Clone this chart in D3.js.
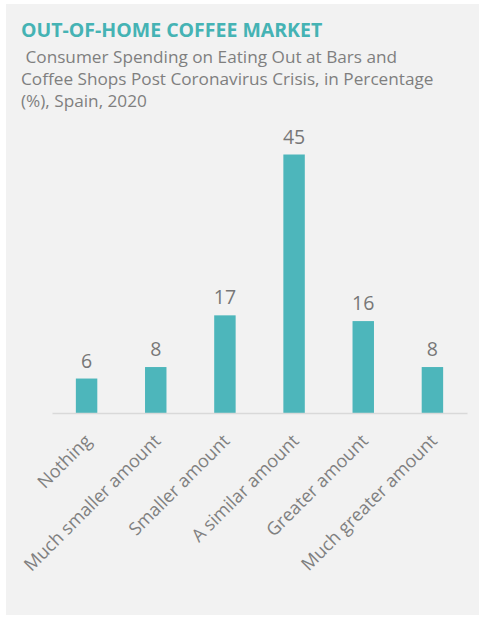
<!DOCTYPE html>
<html>
<head>
<meta charset="utf-8">
<script src="https://cdn.jsdelivr.net/npm/d3@7"></script>
<style>
  body { margin: 0; background: #fff; }
  svg text { font-family: "Open Sans", "Noto Sans", sans-serif; }
</style>
</head>
<body>
<div id="container"></div>
<script>
const width = 479;
const height = 617;

// chart data
const categories = ["Nothing", "Much smaller amount", "Smaller amount", "A similar amount", "Greater amount", "Much greater amount"];
const values = [6, 8, 17, 45, 16, 8];
const title = "OUT-OF-HOME COFFEE MARKET";
const subtitle = [" Consumer Spending on Eating Out at Bars and", "Coffee Shops Post Coronavirus Crisis, in Percentage", "(%), Spain, 2020"];

const svg = d3.select("#container")
	.append("svg")
	.attr("width", width)
	.attr("height", height);

// gray panel
svg.append("rect")
	.attr("x", 6)
	.attr("y", 4)
	.attr("width", width - 6)
	.attr("height", 611)
	.attr("fill", "#f2f2f2");

svg.append("text")
	.attr("x", 21)
	.attr("y", 37)
	.attr("font-size", 19.5)
	.attr("font-weight", "bold")
	.attr("fill", "#45b3b4")
	.text(title);

svg.selectAll(".sub")
	.data(subtitle)
	.enter()
	.append("text")
	.attr("class", "sub")
	.attr("x", 21)
	.attr("y", (d, i) => 63 + i * 22)
	.attr("font-size", 17.2)
	.attr("fill", "#7f7f7f")
	.style("white-space", "pre")
	.text(d => d);

const x = d3.scaleBand()
	.domain(categories)
	.range([52, 467])
	.paddingInner(0.69)
	.paddingOuter(0.345);

const y = d3.scaleLinear()
	.domain([0, 45])
	.range([413, 154.5]);

// bars
svg.selectAll(".bar")
	.data(values)
	.enter()
	.append("rect")
	.attr("class", "bar")
	.attr("x", (d, i) => x(categories[i]))
	.attr("y", d => y(d))
	.attr("width", x.bandwidth())
	.attr("height", d => y(0) - y(d))
	.attr("fill", "#4db6bb");

// value labels
svg.selectAll(".val")
	.data(values)
	.enter()
	.append("text")
	.attr("class", "val")
	.attr("x", (d, i) => x(categories[i]) + x.bandwidth() / 2)
	.attr("y", d => y(d) - 11)
	.attr("text-anchor", "middle")
	.attr("font-size", 19.5)
	.attr("fill", "#777777")
	.text(d => d);

// x axis
const xAxis = svg.append("g")
	.attr("transform", "translate(0," + y(0) + ")")
	.call(d3.axisBottom(x).tickSize(0).tickPadding(0));

xAxis.select(".domain")
	.attr("stroke", "#d9d9d9")
	.attr("stroke-width", 1.5);

xAxis.selectAll("text")
	.attr("font-size", 18)
	.attr("fill", "#808080")
	.attr("text-anchor", "end")
	.attr("dy", null)
	.attr("y", 0)
	.attr("transform", "translate(6,29) rotate(-45)");
</script>
</body>
</html>
